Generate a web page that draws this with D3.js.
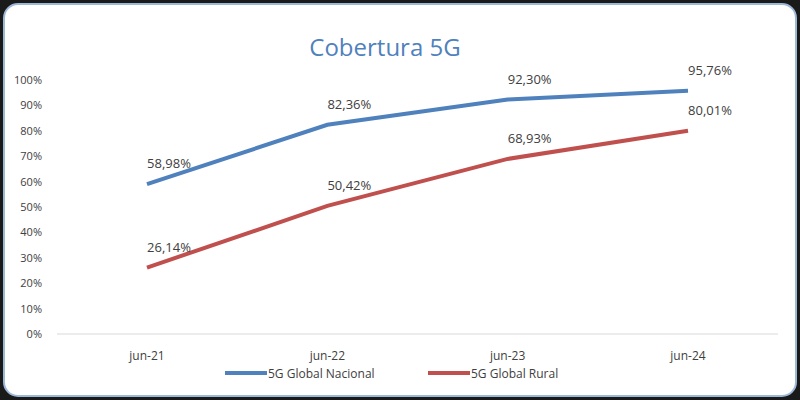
<!DOCTYPE html>
<html><head><meta charset="utf-8">
<script src="https://cdn.jsdelivr.net/npm/d3@7"></script>
<style>body{margin:0;background:#fff}</style>
</head><body><div id="chart"></div>
<script>
const categories = ["jun-21", "jun-22", "jun-23", "jun-24"];
const nacional = [58.98, 82.36, 92.30, 95.76];
const rural = [26.14, 50.42, 68.93, 80.01];
const yTicks = [0, 10, 20, 30, 40, 50, 60, 70, 80, 90, 100];

const fmt = v => v.toFixed(2).replace(".", ",") + "%";
const font = "Open Sans, sans-serif";

const svg = d3.select("#chart").append("svg")
  .attr("width", 800).attr("height", 400);

svg.append("rect").attr("width", 800).attr("height", 400).attr("fill", "#1a1a1a");
svg.append("rect").attr("x", 4).attr("y", 4).attr("width", 792).attr("height", 392)
  .attr("rx", 14).attr("fill", "#fff").attr("stroke", "#9db7d6").attr("stroke-width", 2);

svg.append("text").attr("x", 385).attr("y", 56).attr("text-anchor", "middle")
  .attr("font-family", font).attr("font-size", 24).attr("fill", "#4f81bd")
  .text("Cobertura 5G");

const x = d3.scalePoint().domain(categories).range([147, 688]);
const y = d3.scaleLinear().domain([0, 100]).range([334, 80]);

yTicks.forEach(t => {
  svg.append("text").attr("x", 42).attr("y", y(t) + 4).attr("text-anchor", "end")
    .attr("font-family", font).attr("font-size", 11).attr("fill", "#404040")
    .text(t + "%");
});

svg.append("line").attr("x1", 57).attr("x2", 778).attr("y1", y(0)).attr("y2", y(0))
  .attr("stroke", "#d9d9d9");

categories.forEach(c => {
  svg.append("text").attr("x", x(c)).attr("y", 360).attr("text-anchor", "middle")
    .attr("font-family", font).attr("font-size", 12).attr("fill", "#404040").text(c);
});

const line = d3.line().x((d, i) => x(categories[i])).y(d => y(d));
[[nacional, "#4f81bd"], [rural, "#c0504d"]].forEach(([vals, col]) => {
  svg.append("path").datum(vals).attr("d", line).attr("fill", "none")
    .attr("stroke", col).attr("stroke-width", 4);
  vals.forEach((v, i) => {
    svg.append("text").attr("x", x(categories[i]) + 22).attr("y", y(v) - 16)
      .attr("text-anchor", "middle").attr("font-family", font).attr("font-size", 13)
      .attr("fill", "#404040").text(fmt(v));
  });
});

const legend = [["5G Global Nacional", "#4f81bd", 225], ["5G Global Rural", "#c0504d", 428]];
legend.forEach(([name, col, lx]) => {
  svg.append("line").attr("x1", lx).attr("x2", lx + 42).attr("y1", 373).attr("y2", 373)
    .attr("stroke", col).attr("stroke-width", 4);
  svg.append("text").attr("x", lx + 43).attr("y", 378).attr("font-family", font)
    .attr("font-size", 12).attr("fill", "#404040").text(name);
});
</script></body></html>
